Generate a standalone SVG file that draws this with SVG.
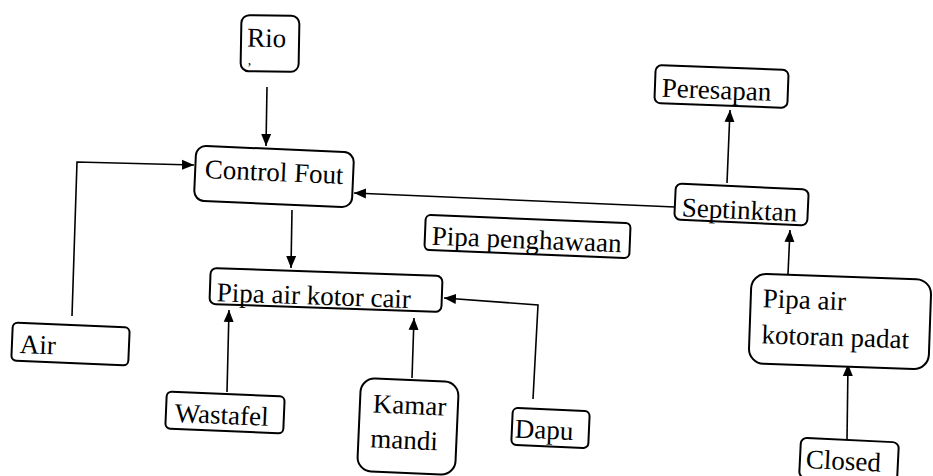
<svg xmlns="http://www.w3.org/2000/svg" width="933" height="476" viewBox="0 0 933 476">
  <defs>
    <marker id="ah" markerWidth="13" markerHeight="11" refX="12" refY="5.5" orient="auto" markerUnits="userSpaceOnUse">
      <path d="M0,0.5 L12,5.5 L0,10.5 z" fill="#000"/>
    </marker>
    <style>
      .box { fill: #fff; stroke: #000; stroke-width: 2; }
      text { font-family: "Liberation Serif", Tinos, "Times New Roman", Times, "Noto Serif", "DejaVu Serif", FreeSerif, serif; font-size: 27px; fill: #000; }
      .edge { fill: none; stroke: #000; stroke-width: 1.6; marker-end: url(#ah); }
    </style>
  </defs>
  <rect width="933" height="476" fill="#fff"/>

  <g id="connectors">
    <path class="edge" d="M267,87 L266,146"/>
    <path class="edge" d="M72,316 L77,162 L194,165"/>
    <path class="edge" d="M675,207 L354,193"/>
    <path class="edge" d="M292,210 L291,268"/>
    <path class="edge" d="M227,392 L229,310"/>
    <path class="edge" d="M412,378 L414,318"/>
    <path class="edge" d="M533,399 L538,305 L444,298"/>
    <path class="edge" d="M727,183 L730,110"/>
    <path class="edge" d="M788,274 L790,230"/>
    <path class="edge" d="M847,440 L848,364"/>
  </g>

  <g id="rio" transform="rotate(1 270 43.5)">
    <rect class="box" x="241" y="15.5" width="58" height="56" rx="8"/>
    <text x="266.5" y="47" text-anchor="middle">Rio</text>
    <text x="248" y="65" style="font-size:14px">,</text>
  </g>

  <g id="control-fout" transform="rotate(2.5 274 176.5)">
    <rect class="box" x="195" y="149" width="158" height="55" rx="10"/>
    <text x="274" y="181" text-anchor="middle">Control Fout</text>
  </g>

  <g id="pipa-air-kotor-cair" transform="rotate(2 326 290)">
    <rect class="box" x="210" y="272" width="232" height="36" rx="6"/>
    <text x="217" y="305">Pipa air kotor cair</text>
  </g>

  <g id="air" transform="rotate(2.4 70.5 344)">
    <rect class="box" x="12" y="325" width="117" height="38" rx="5"/>
    <text x="20" y="355">Air</text>
  </g>

  <g id="wastafel" transform="rotate(2.4 225 412.5)">
    <rect class="box" x="166" y="394" width="118" height="37" rx="5"/>
    <text x="175" y="424">Wastafel</text>
  </g>

  <g id="kamar-mandi" transform="rotate(2.5 408 426.5)">
    <rect class="box" x="359" y="380" width="98" height="93" rx="14"/>
    <text x="372" y="414">Kamar</text>
    <text x="371" y="449">mandi</text>
  </g>

  <g id="dapu" transform="rotate(2.5 550.5 428)">
    <rect class="box" x="512" y="409.5" width="77" height="37" rx="5"/>
    <text x="515" y="439">Dapu</text>
  </g>

  <g id="pipa-penghawaan" transform="rotate(2.3 527.5 236.5)">
    <rect class="box" x="425" y="219" width="205" height="35" rx="5"/>
    <text x="432" y="248.5">Pipa penghawaan</text>
  </g>

  <g id="septinktan" transform="rotate(2.6 741.5 204.5)">
    <rect class="box" x="675" y="186.5" width="133" height="36" rx="6"/>
    <text x="682" y="219">Septinktan</text>
  </g>

  <g id="peresapan" transform="rotate(2.1 721.5 86.5)">
    <rect class="box" x="655" y="67.5" width="133" height="38" rx="6"/>
    <text x="662" y="99">Peresapan</text>
  </g>

  <g id="pipa-air-kotoran-padat" transform="rotate(2 840 321.5)">
    <rect class="box" x="750" y="276.5" width="180" height="90" rx="15"/>
    <text x="762" y="310">Pipa air</text>
    <text x="762" y="346">kotoran padat</text>
  </g>

  <g id="closed" transform="rotate(2.8 849 460)">
    <rect class="box" x="800" y="440" width="98" height="40" rx="6"/>
    <text x="806" y="470">Closed</text>
  </g>
</svg>
